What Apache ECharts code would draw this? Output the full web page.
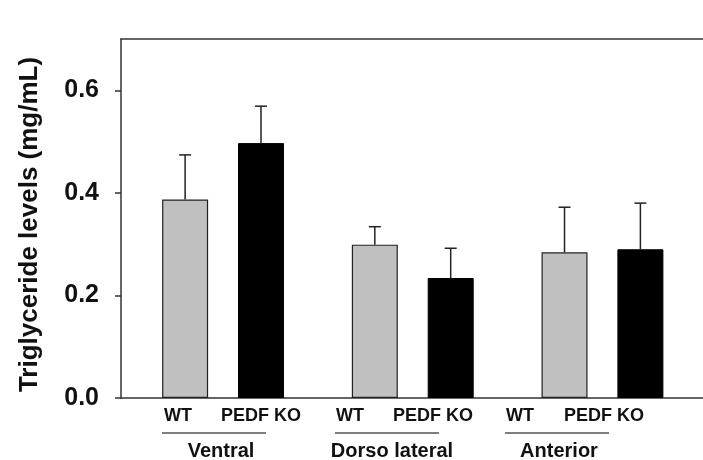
<!DOCTYPE html>
<html>
<head>
<meta charset="utf-8">
<script src="https://cdn.jsdelivr.net/npm/echarts@6/dist/echarts.min.js"></script>
<style>
  html, body { margin: 0; padding: 0; background: #fff; }
  #chart { width: 703px; height: 460px; }
</style>
</head>
<body>
<div id="chart"></div>
<script>
  // data
  const regions = ['Ventral', 'Dorso lateral', 'Anterior'];
  const groups = ['WT', 'PEDF KO'];
  const wtMean = [0.387, 0.299, 0.284];
  const wtErr = [0.087, 0.035, 0.088];
  const koMean = [0.497, 0.234, 0.290];
  const koErr = [0.072, 0.058, 0.090];
  const yTicks = [0, 0.2, 0.4, 0.6];

  // layout: region g sits at x = 5g, KO bar two units to the right
  const STEP = 5, KO_OFF = 2;
  const FONT = 'Liberation Sans, Arial, sans-serif';
  const AXIS = { color: '#333', width: 1.5 };

  let chart = echarts.init(document.getElementById('chart'));

  let wtData = wtMean.map((v, i) => [i * STEP, v]);
  let koData = koMean.map((v, i) => [i * STEP + KO_OFF, v]);
  let errData = [];
  wtMean.forEach((v, i) => errData.push([i * STEP, v, wtErr[i]]));
  koMean.forEach((v, i) => errData.push([i * STEP + KO_OFF, v, koErr[i]]));

  // text under the axis (positions as in the original figure)
  let labelX = [[178, 261], [350, 433], [520, 604]];
  let lineX = [[162, 266], [335, 439], [505, 609]];
  let nameX = [221, 392, 559];
  let graphic = [];
  regions.forEach((r, i) => {
    groups.forEach((g, j) => {
      graphic.push({
        type: 'text',
        style: {
          x: labelX[i][j], y: 416, text: g, align: 'center', verticalAlign: 'middle',
          fontFamily: FONT, fontSize: 18, fontWeight: 'bold', fill: '#111'
        }
      });
    });
    graphic.push({
      type: 'line',
      shape: { x1: lineX[i][0], y1: 433, x2: lineX[i][1], y2: 433 },
      style: { stroke: '#555', lineWidth: 1.5 }
    });
    graphic.push({
      type: 'text',
      style: {
        x: nameX[i], y: 451, text: r, align: 'center', verticalAlign: 'middle',
        fontFamily: FONT, fontSize: 20, fontWeight: 'bold', fill: '#111'
      }
    });
  });

  let xBase = {
    type: 'value',
    min: -1.69,
    max: 13.65,
    axisLine: { show: true, onZero: false, lineStyle: AXIS },
    axisTick: { show: false },
    axisLabel: { show: false },
    splitLine: { show: false }
  };

  let option = {
    animation: false,
    grid: { left: 121, top: 39, right: 0, bottom: 62 },
    xAxis: [
      Object.assign({ position: 'bottom' }, xBase),
      Object.assign({ position: 'top' }, xBase)
    ],
    yAxis: {
      type: 'value',
      min: 0,
      max: 0.7,
      name: 'Triglyceride levels (mg/mL)',
      nameLocation: 'middle',
      nameGap: 78,
      nameTextStyle: {
        fontFamily: FONT, fontSize: 26, fontWeight: 'bold', color: '#111',
        padding: [0, 12, 0, 0]
      },
      axisLine: { show: true, onZero: false, lineStyle: AXIS },
      axisTick: { show: true, length: 6, customValues: yTicks, lineStyle: AXIS },
      axisLabel: {
        customValues: yTicks,
        margin: 22,
        fontFamily: FONT, fontSize: 25, fontWeight: 'bold', color: '#111',
        formatter: v => v.toFixed(1)
      },
      splitLine: { show: false }
    },
    graphic: graphic,
    series: [
      {
        name: 'WT',
        type: 'bar',
        data: wtData,
        barWidth: 46,
        barGap: '-100%',
        itemStyle: { color: '#c0c0c0', borderColor: '#222', borderWidth: 1.2 }
      },
      {
        name: 'PEDF KO',
        type: 'bar',
        data: koData,
        barWidth: 46,
        barGap: '-100%',
        itemStyle: { color: '#000', borderColor: '#000', borderWidth: 1 }
      },
      {
        // error bars, upper half only
        type: 'custom',
        data: errData,
        z: 3,
        renderItem: function (params, api) {
          let x = api.value(0), m = api.value(1), e = api.value(2);
          let base = api.coord([x, m]);
          let top = api.coord([x, m + e]);
          let st = { stroke: '#222', lineWidth: 1.5 };
          return {
            type: 'group',
            children: [
              { type: 'line', shape: { x1: base[0], y1: base[1], x2: top[0], y2: top[1] }, style: st },
              { type: 'line', shape: { x1: top[0] - 6, y1: top[1], x2: top[0] + 6, y2: top[1] }, style: st }
            ]
          };
        }
      }
    ]
  };
  chart.setOption(option);
</script>
</body>
</html>
